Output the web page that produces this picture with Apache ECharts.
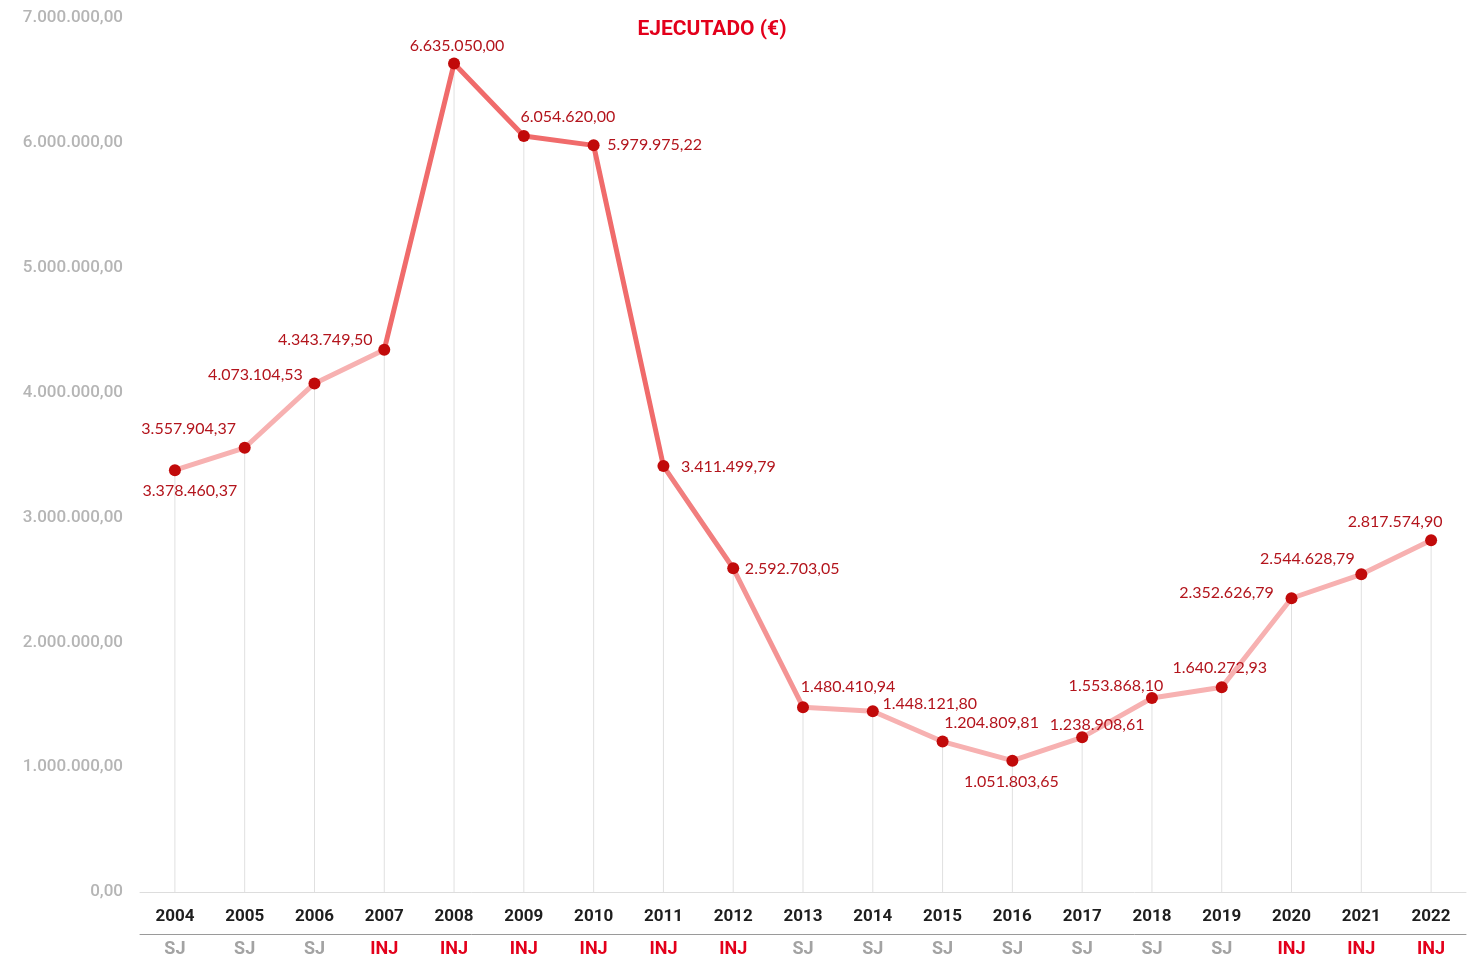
<!DOCTYPE html>
<html lang="es">
<head>
  <meta charset="UTF-8">
  <title>Ejecutado</title>
  <script src="https://cdn.jsdelivr.net/npm/echarts@6/dist/echarts.min.js"></script>
  <style>
    html, body { margin: 0; padding: 0; background: #fff; }
    #chart { width: 1472px; height: 957px; }
  </style>
</head>
<body>
  <div id="chart"></div>
  <script>
    // datos
    const years = ['2004', '2005', '2006', '2007', '2008', '2009', '2010', '2011', '2012', '2013',
      '2014', '2015', '2016', '2017', '2018', '2019', '2020', '2021', '2022']
    const types = ['SJ', 'SJ', 'SJ', 'INJ', 'INJ', 'INJ', 'INJ', 'INJ', 'INJ', 'SJ',
      'SJ', 'SJ', 'SJ', 'SJ', 'SJ', 'SJ', 'INJ', 'INJ', 'INJ']
    const ejecutado = [3378460.37, 3557904.37, 4073104.53, 4343749.50, 6635050.00, 6054620.00,
      5979975.22, 3411499.79, 2592703.05, 1480410.94, 1448121.80, 1204809.81, 1051803.65,
      1238908.61, 1553868.10, 1640272.93, 2352626.79, 2544628.79, 2817574.90]
    const yTicks = [0, 1000000, 2000000, 3000000, 4000000, 5000000, 6000000, 7000000]

    // posicion de cada etiqueta respecto a su punto
    const labelOffsets = [[15, 21], [-56, -19], [-59, -9], [-59, -10], [3, -18], [44, -19],
      [61, -1], [65, 1], [59, 1], [45, -20], [57, -7], [49, -19], [-1, 21], [15, -12],
      [-36, -12], [-2, -19], [-65, -5], [-54, -15], [-36, -18]]

    // color de cada tramo (desde el punto i al i+1)
    const segColors = ['#f7b1b1', '#f7b1b1', '#f7b1b1', '#f06b6b', '#f06b6b', '#f06b6b', '#f06b6b',
      '#f17e7e', '#f49494', '#f7b1b1', '#f7b1b1', '#f7b1b1', '#f7b1b1', '#f7b1b1', '#f7b1b1',
      '#f7b1b1', '#f7b1b1', '#f7b1b1']

    function fmt(v) {
      const parts = v.toFixed(2).split('.')
      const ent = parts[0].replace(/\B(?=(\d{3})+(?!\d))/g, '.')
      return ent + ',' + parts[1]
    }

    // agrupar tramos consecutivos del mismo color en series
    const segSeries = []
    let start = 0
    for (let i = 1; i <= segColors.length; i++) {
      if (i === segColors.length || segColors[i] !== segColors[start]) {
        const d = ejecutado.map((v, k) => (k >= start && k <= i ? v : null))
        segSeries.push({
          type: 'line',
          data: d,
          symbol: 'none',
          silent: true,
          z: 2,
          lineStyle: { color: segColors[start], width: 5, cap: 'round', join: 'round' }
        })
        start = i
      }
    }

    const chart = echarts.init(document.getElementById('chart'))
    chart.setOption({
      animation: false,
      title: {
        text: 'EJECUTADO (€)',
        left: 707,
        top: 14,
        textAlign: 'center',
        textStyle: { color: '#e3001b', fontFamily: 'Roboto', fontWeight: 'bold', fontSize: 21 }
      },
      grid: { left: 140, right: 6, top: 18, bottom: 65, outerBoundsMode: 'none' },
      xAxis: [{
        type: 'category',
        data: years,
        axisLine: { lineStyle: { color: '#dddddd', width: 1 } },
        axisTick: { show: false },
        axisLabel: { color: '#1e1e1e', fontFamily: 'Roboto', fontWeight: 'bold', fontSize: 17, margin: 16 }
      }, {
        type: 'category',
        data: years,
        position: 'bottom',
        offset: 42,
        axisLine: { lineStyle: { color: '#9a9a9a', width: 1 } },
        axisTick: { show: false },
        axisLabel: {
          formatter: (val, idx) => types[idx],
          color: (val, idx) => (types[idx] === 'INJ' ? '#e3001b' : '#a3a3a3'),
          fontFamily: 'Roboto', fontWeight: 'bold', fontSize: 18, margin: 6
        }
      }],
      yAxis: {
        type: 'value',
        min: yTicks[0],
        max: yTicks[yTicks.length - 1],
        interval: yTicks[1] - yTicks[0],
        axisLine: { show: false },
        axisTick: { show: false },
        splitLine: { show: false },
        axisLabel: {
          formatter: v => fmt(v),
          color: '#b5b5b5', fontFamily: 'Roboto', fontWeight: 500, fontSize: 17, margin: 17
        }
      },
      series: [{
        type: 'bar',
        data: ejecutado,
        barWidth: 1,
        silent: true,
        z: 1,
        itemStyle: { color: '#e0e0e0' }
      }, ...segSeries, {
        type: 'line',
        data: ejecutado.map((v, i) => ({
          value: v,
          label: { offset: labelOffsets[i] }
        })),
        symbol: 'circle',
        symbolSize: 12,
        z: 3,
        lineStyle: { width: 0, opacity: 0 },
        itemStyle: { color: '#c10a0a' },
        label: {
          show: true,
          position: 'inside',
          align: 'center',
          verticalAlign: 'middle',
          formatter: p => fmt(p.value),
          color: '#b3141c',
          fontFamily: 'Lato',
          fontSize: 16
        }
      }]
    })
  </script>
</body>
</html>
